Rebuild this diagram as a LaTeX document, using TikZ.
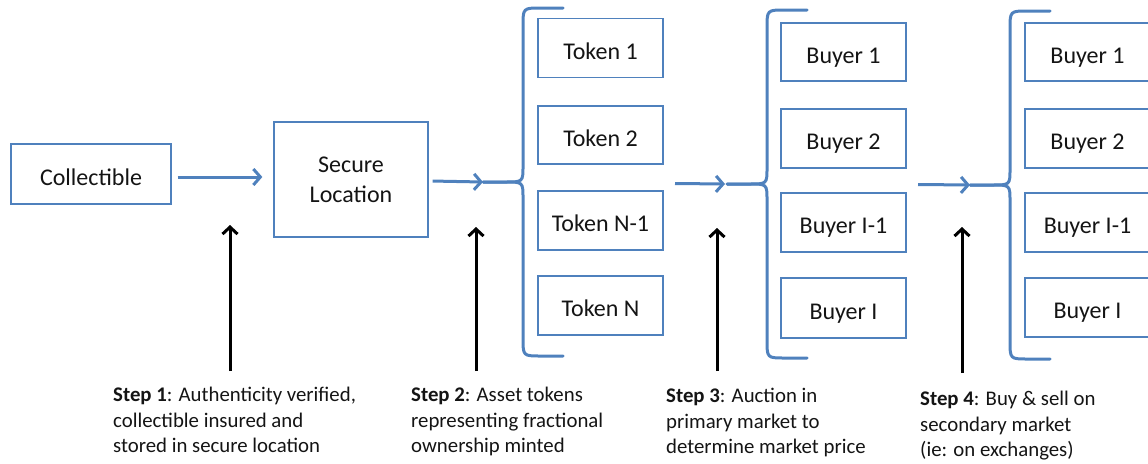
\documentclass[tikz,border=0pt]{standalone}
\usepackage{fontspec}
\setmainfont{Carlito}
\usetikzlibrary{arrows.meta}
\definecolor{ob}{RGB}{79,129,189}
\definecolor{txt}{RGB}{20,20,20}
\tikzset{
  box/.style={draw=ob, line width=1.3pt, inner sep=0pt, align=center, text=txt,
    font=\fontsize{24}{30}\selectfont},
  sbox/.style={draw=ob, line width=1.3pt, inner sep=0pt, text=txt,
    font=\fontsize{24}{30}\selectfont, text height=22pt, text depth=0pt},
  barrow/.style={draw=ob, line width=3pt, -{Straight Barb[length=7pt,width=16pt]}},
  karrow/.style={draw=black, line width=3pt, -{Straight Barb[length=7pt,width=15pt]}},
  bracepath/.style={draw=ob, line width=3pt, line cap=round},
  steptext/.style={anchor=north west, inner sep=0pt, align=left, text=txt,
    font=\fontsize{20.8}{25.5}\selectfont},
  curly/.pic={
    \path[bracepath] (40,-174) -- (18,-174) .. controls (0,-174) .. (0,-156) -- (0,-16)
      .. controls (0,0) .. (-18,0) -- (-40,0);
    \path[bracepath] (-40,0) -- (-18,0) .. controls (0,0) .. (0,16) -- (0,156)
      .. controls (0,174) .. (18,174) -- (40,174);
  }
}
\begin{document}
\begin{tikzpicture}[x=1pt,y=-1pt]
\useasboundingbox (0,0) rectangle (1148,463);

% boxes
\node[sbox, minimum width=160, minimum height=60] (coll) at (91,174) {Collectible};
\node[box, minimum width=154, minimum height=115] (sec) at (351,179.5) {Secure\\Location};

\node[sbox, minimum width=125, minimum height=59] (t1) at (600.5,48) {Token 1};
\node[sbox, minimum width=125, minimum height=58] (t2) at (600.5,135) {Token 2};
\node[sbox, minimum width=125, minimum height=59] (t3) at (600.5,220.5) {Token N-1};
\node[sbox, minimum width=125, minimum height=59] (t4) at (600.5,305.5) {Token N};

\node[sbox, minimum width=125, minimum height=58] (b1) at (843.5,52) {Buyer 1};
\node[sbox, minimum width=125, minimum height=59] (b2) at (843.5,138.5) {Buyer 2};
\node[sbox, minimum width=125, minimum height=59] (b3) at (843.5,222.5) {Buyer I-1};
\node[sbox, minimum width=125, minimum height=60] (b4) at (843.5,308) {Buyer I};

\node[sbox, minimum width=125, minimum height=58] (c1) at (1087.5,52) {Buyer 1};
\node[sbox, minimum width=125, minimum height=59] (c2) at (1087.5,138.5) {Buyer 2};
\node[sbox, minimum width=125, minimum height=59] (c3) at (1087.5,222.5) {Buyer I-1};
\node[sbox, minimum width=125, minimum height=59] (c4) at (1087.5,307.5) {Buyer I};

% braces
\coordinate (tip1) at (483,182);
\coordinate (tip2) at (725,184);
\coordinate (tip3) at (970,185);
\pic at (523,182) {curly};
\pic at (767,184) {curly};
\pic at (1010,185) {curly};

% blue arrows
\coordinate (a3s) at (675,183.5);
\coordinate (a4s) at (918,184.5);
\draw[barrow, shorten <=6pt, shorten >=11pt] ([yshift=-3pt]coll.east) -- ([yshift=-3pt]coll.east -| sec.west);
\draw[barrow, shorten <=4pt] (sec) -- (tip1);
\draw[barrow] (a3s) -- (tip2);
\draw[barrow] (a4s) -- (tip3);

% step texts
\node[steptext] (s1) at (113,387) {\textbf{Step 1}: Authenticity verified,\\collectible insured and\\stored in secure location};
\node[steptext] (s2) at (411,387) {\textbf{Step 2}: Asset tokens\\representing fractional\\ownership minted};
\node[steptext] (s3) at (666,388) {\textbf{Step 3}: Auction in\\primary market to\\determine market price};
\node[steptext] (s4) at (920,391) {\textbf{Step 4}: Buy \& sell on\\secondary market\\(ie: on exchanges)};

% black arrows
\coordinate (k1b) at (230,371); \coordinate (k1t) at (230,225);
\coordinate (k2b) at (476,371); \coordinate (k2t) at (476,227);
\coordinate (k3b) at (717,371); \coordinate (k3t) at (717,228);
\coordinate (k4b) at (962,373); \coordinate (k4t) at (962,227);
\draw[karrow] (k1b) -- (k1t);
\draw[karrow] (k2b) -- (k2t);
\draw[karrow] (k3b) -- (k3t);
\draw[karrow] (k4b) -- (k4t);
\end{tikzpicture}
\end{document}
